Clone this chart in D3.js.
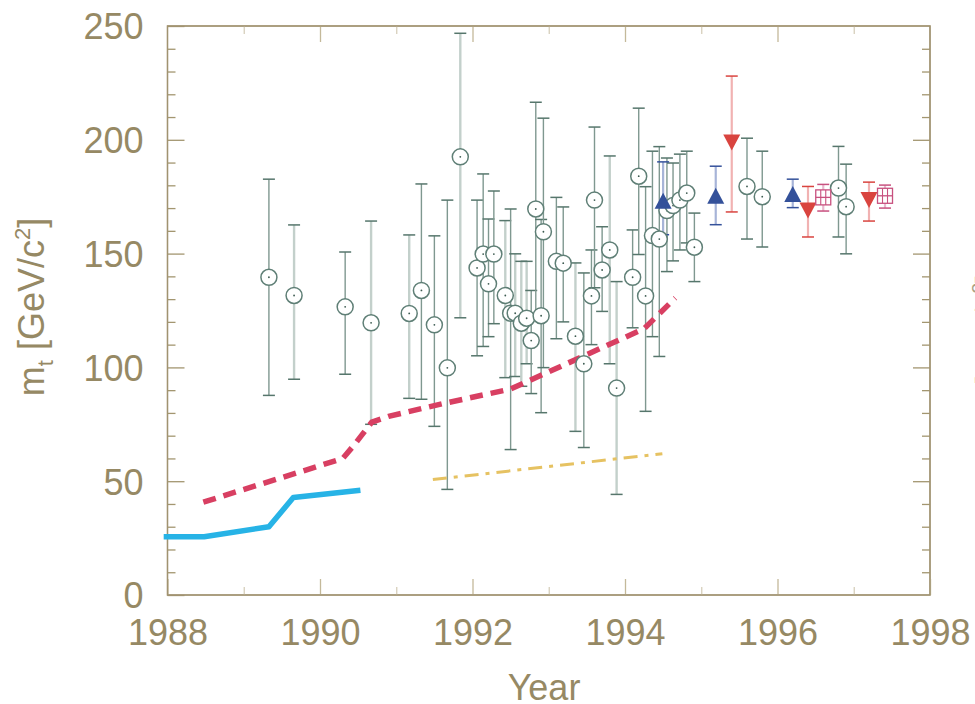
<!DOCTYPE html>
<html>
<head>
<meta charset="utf-8">
<script src="https://cdn.jsdelivr.net/npm/d3@7"></script>
<style>
  html, body { margin: 0; padding: 0; background: #ffffff; overflow: hidden; }
  svg { display: block; }
  text { font-family: "Liberation Sans", Arial, Helvetica, sans-serif; }
</style>
</head>
<body>
<svg id="chart" width="975" height="704"></svg>
<script>
// ---------------- data ----------------
// open circles: [year, mass, lower, upper, lightBar]
const circleYears  = [1989.33,1989.66,1990.33,1990.67,1991.17,1991.33,1991.5,1991.67,1991.84,1992.06,1992.14,1992.21,1992.28,1992.43,1992.5,1992.56,1992.64,1992.71,1992.77,1992.83,1992.9,1992.93,1993.1,1993.19,1993.35,1993.46,1993.56,1993.6,1993.7,1993.8,1993.89,1994.1,1994.18,1994.27,1994.36,1994.45,1994.55,1994.63,1994.72,1994.81,1994.91,1995.6,1995.8,1996.8,1996.9];
const circleMass   = [139.6,131.6,126.6,119.6,123.7,133.8,118.7,99.8,192.5,143.7,149.8,136.7,149.8,131.6,123.8,123.8,119.4,121.6,111.8,169.6,122.7,159.6,146.6,145.8,113.7,101.6,131.4,173.5,142.8,151.6,90.9,139.6,184.0,131.4,157.9,156.4,168.9,171.1,173.5,176.6,152.8,179.5,175.0,178.8,170.6];
const circleLow    = [87.7,94.8,97.0,75.0,86.4,86.0,74.1,46.4,121.8,105.1,109.2,113.5,119.2,95.5,63.9,96.0,91.7,101.6,88.5,123.0,80.1,99.9,112.6,120.0,71.9,64.8,110.0,135.0,124.6,101.6,44.2,117.4,149.6,80.7,113.5,104.8,142.1,146.8,151.6,154.7,137.7,156.4,152.9,157.3,149.9];
const circleHigh   = [182.7,162.6,150.7,164.3,158.2,180.6,157.8,173.5,246.8,173.5,185.0,165.2,177.5,164.5,169.6,149.9,146.6,146.6,133.8,216.5,165.0,209.5,174.7,170.5,145.9,141.5,151.6,205.6,161.8,192.9,137.7,160.4,213.9,179.4,195.0,197.0,192.0,189.8,193.7,195.0,167.8,200.7,195.0,197.1,189.3];
const circleLight  = [0,1,0,1,1,0,0,0,1,0,0,0,0,1,0,1,1,1,0,0,0,0,0,0,1,0,0,0,0,1,1,0,0,0,0,0,0,0,0,0,0,0,0,0,0];

// filled up-triangles (blue)
const triYears = [1994.5, 1995.19, 1996.2];
const triMass  = [173.2, 175.4, 176.2];
const triLow   = [158.3, 162.7, 170.2];
const triHigh  = [190.3, 188.4, 182.7];

// filled down-triangles (red)
const invYears = [1995.4, 1996.4, 1997.2];
const invMass  = [198.8, 168.9, 173.5];
const invLow   = [168.3, 157.3, 164.3];
const invHigh  = [228.0, 179.5, 181.4];

// crossed squares (pink)
const sqYears = [1996.6, 1997.41];
const sqMass  = [174.7, 175.4];
const sqLow   = [168.7, 170.0];
const sqHigh  = [180.4, 180.1];

// limit lines
const redLine    = [[1988.47,40.8],[1990.3,60],[1990.45,66],[1990.68,76],[1990.9,78.5],[1991.6,84],[1992.5,90.5],[1994.25,117],[1994.66,130.5]];
const blueLine   = [[1987.95,25.6],[1988.48,25.6],[1989.33,30],[1989.65,42.8],[1990.53,46]];
const yellowLine = [[1991.48,50.7],[1994.49,62.1]];

// ticks
const xMajorTicks = [1988,1990,1992,1994,1996,1998];
const xMinorTicks = [1989,1991,1993,1995,1997];
const yMajorTicks = [0,50,100,150,200,250];
const yMinorTicks = d3.range(10,250,10).filter(v => v % 50 !== 0);

// ---------------- drawing ----------------
const svg = d3.select("#chart");
const L = 167.5, R = 930, T = 26, B = 595;
const x = d3.scaleLinear().domain([1988,1998]).range([L,R]);
const y = d3.scaleLinear().domain([0,250]).range([B,T]);

const textCol = "#968964";
const frameCol = "#a09370";
const majCol = "#a39670";
const minXCol = "#d6cfbb";

// frame
svg.append("rect").attr("x",L).attr("y",T).attr("width",R-L).attr("height",B-T)
  .attr("fill","none").attr("stroke",frameCol).attr("stroke-width",1.3);

function styleAxis(g, col) {
  g.select(".domain").remove();
  g.selectAll(".tick line").attr("stroke", col).attr("stroke-width", 1.3);
}
// bottom axis
svg.append("g").attr("transform",`translate(0,${B})`)
  .call(d3.axisBottom(x).tickValues(xMinorTicks).tickSize(-8).tickFormat(""))
  .call(g => styleAxis(g, minXCol));
svg.append("g").attr("transform",`translate(0,${B})`)
  .call(d3.axisBottom(x).tickValues(xMajorTicks).tickSize(-16).tickPadding(30).tickFormat(d3.format("d")))
  .call(g => styleAxis(g, "#c4b99a"))
  .call(g => g.selectAll(".tick text").attr("fill",textCol).attr("font-size",36)
     .attr("font-family",'"Liberation Sans", Arial, sans-serif').attr("dy","0.55em"));
// top axis
svg.append("g").attr("transform",`translate(0,${T})`)
  .call(d3.axisTop(x).tickValues(xMinorTicks).tickSize(-8).tickFormat(""))
  .call(g => styleAxis(g, minXCol));
svg.append("g").attr("transform",`translate(0,${T})`)
  .call(d3.axisTop(x).tickValues(xMajorTicks.slice(1,-1)).tickSize(-16).tickFormat(""))
  .call(g => styleAxis(g, "#c4b99a"));
// left axis
svg.append("g").attr("transform",`translate(${L},0)`)
  .call(d3.axisLeft(y).tickValues(yMinorTicks).tickSize(-8).tickFormat(""))
  .call(g => styleAxis(g, majCol));
svg.append("g").attr("transform",`translate(${L},0)`)
  .call(d3.axisLeft(y).tickValues(yMajorTicks).tickSize(-17).tickPadding(24).tickFormat(d3.format("d")))
  .call(g => styleAxis(g, majCol))
  .call(g => g.selectAll(".tick text").attr("fill",textCol).attr("font-size",36)
     .attr("font-family",'"Liberation Sans", Arial, sans-serif').attr("x",-24).attr("dy","0.36em"));
// right axis
svg.append("g").attr("transform",`translate(${R},0)`)
  .call(d3.axisRight(y).tickValues(yMinorTicks).tickSize(-8).tickFormat(""))
  .call(g => styleAxis(g, majCol));
svg.append("g").attr("transform",`translate(${R},0)`)
  .call(d3.axisRight(y).tickValues(yMajorTicks.slice(1,-1)).tickSize(-17).tickFormat(""))
  .call(g => styleAxis(g, majCol));
// redraw frame edges on top
svg.append("rect").attr("x",L).attr("y",T).attr("width",R-L).attr("height",B-T)
  .attr("fill","none").attr("stroke",frameCol).attr("stroke-width",1.3);

// axis titles
svg.append("text").attr("x",544).attr("y",700).attr("text-anchor","middle")
  .attr("fill",textCol).attr("font-size",36).text("Year");

const yl = svg.append("text").attr("transform","translate(44,307) rotate(-90)")
  .attr("text-anchor","middle").attr("fill",textCol).attr("font-size",36);
yl.append("tspan").text("m");
yl.append("tspan").attr("font-size",22).attr("dy",9).text("t");
yl.append("tspan").attr("dy",-9).text(" [GeV/c");
yl.append("tspan").attr("font-size",22).attr("dy",-14).text("2");
yl.append("tspan").attr("dy",14).text("]");

// neighbouring chart's clipped label at right edge
const yr = svg.append("text").attr("transform","translate(997,330) rotate(-90)")
  .attr("text-anchor","middle").attr("fill",textCol).attr("font-size",30).attr("opacity",0.8);
yr.append("tspan").text("[GeV/c");
yr.append("tspan").attr("font-size",19).attr("dy",-12).text("2");
yr.append("tspan").attr("dy",12).text("]");

// error bars helper
function errBars(years, low, high, lineCol, lineW, capCol) {
  const g = svg.append("g");
  years.forEach((yr0,i) => {
    g.append("line").attr("x1",x(yr0)).attr("x2",x(yr0)).attr("y1",y(low[i])).attr("y2",y(high[i]))
      .attr("stroke", typeof lineCol === "function" ? lineCol(i) : lineCol)
      .attr("stroke-width", typeof lineW === "function" ? lineW(i) : lineW);
    [low[i],high[i]].forEach(v => {
      g.append("line").attr("x1",x(yr0)-6).attr("x2",x(yr0)+6).attr("y1",y(v)).attr("y2",y(v))
        .attr("stroke",capCol).attr("stroke-width",1.5);
    });
  });
}
errBars(circleYears, circleLow, circleHigh,
  i => circleLight[i] ? "#c3d0cb" : "#7f9890", i => circleLight[i] ? 2.4 : 1.4, "#56766c");
errBars(triYears, triLow, triHigh, "#a7b4d8", 2.2, "#34519a");
errBars(invYears, invLow, invHigh, "#f1b2b2", 2.2, "#d9443f");
errBars(sqYears, sqLow, sqHigh, "#e9b9cf", 2.2, "#c8517f");

// limit lines
const lg = d3.line().x(d => x(d[0])).y(d => y(d[1]));
svg.append("path").datum(yellowLine).attr("d",lg).attr("fill","none")
  .attr("stroke","#e6c262").attr("stroke-width",3).attr("stroke-dasharray","14,7,4,7");
svg.append("path").datum(blueLine).attr("d",lg).attr("fill","none")
  .attr("stroke","#27b3e6").attr("stroke-width",5.5).attr("stroke-linejoin","round");
svg.append("path").datum(redLine).attr("d",lg).attr("fill","none")
  .attr("stroke","#d83f62").attr("stroke-width",5.5).attr("stroke-dasharray","13,8");

// circles
const cg = svg.append("g");
circleYears.forEach((yr0,i) => {
  cg.append("circle").attr("cx",x(yr0)).attr("cy",y(circleMass[i])).attr("r",8)
    .attr("fill","#ffffff").attr("stroke","#5f7f76").attr("stroke-width",1.5);
  cg.append("circle").attr("cx",x(yr0)).attr("cy",y(circleMass[i])).attr("r",0.9)
    .attr("fill","#3c5a50");
});
// up triangles
triYears.forEach((yr0,i) => {
  svg.append("path").attr("transform",`translate(${x(yr0)},${y(triMass[i])})`)
    .attr("d","M0,-8L8.5,8L-8.5,8Z").attr("fill","#34519a");
});
// down triangles
invYears.forEach((yr0,i) => {
  svg.append("path").attr("transform",`translate(${x(yr0)},${y(invMass[i])})`)
    .attr("d","M0,8L8.5,-8L-8.5,-8Z").attr("fill","#d9443f");
});
// crossed squares
sqYears.forEach((yr0,i) => {
  const g = svg.append("g").attr("transform",`translate(${x(yr0)},${y(sqMass[i])})`);
  g.append("rect").attr("x",-7.5).attr("y",-7.5).attr("width",15).attr("height",15)
    .attr("fill","#ffffff").attr("stroke","#c8517f").attr("stroke-width",1.3);
  g.append("line").attr("x1",-7.5).attr("x2",7.5).attr("y1",0).attr("y2",0).attr("stroke","#c8517f").attr("stroke-width",1.3);
  g.append("line").attr("x1",-2.5).attr("x2",-2.5).attr("y1",-7.5).attr("y2",7.5).attr("stroke","#c8517f").attr("stroke-width",1.1);
  g.append("line").attr("x1",2.5).attr("x2",2.5).attr("y1",-7.5).attr("y2",7.5).attr("stroke","#c8517f").attr("stroke-width",1.1);
});
</script>
</body>
</html>
